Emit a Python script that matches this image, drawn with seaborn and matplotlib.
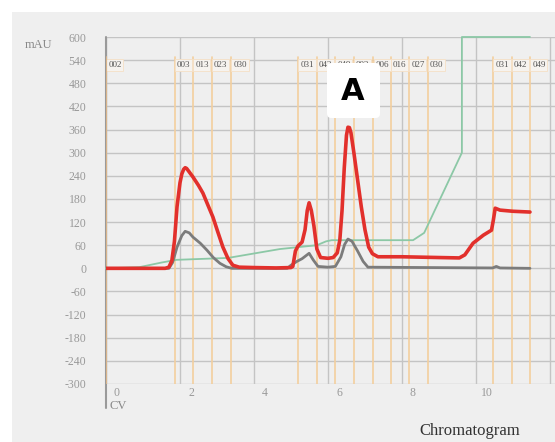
import matplotlib
matplotlib.use("Agg")
import matplotlib.pyplot as plt
import seaborn as sns
from matplotlib.patches import Rectangle, FancyBboxPatch
from matplotlib.transforms import ScaledTranslation

# UV 280 (red) trace
red_cv = [0, 1.6, 1.7, 1.78, 1.85, 1.92, 2.0, 2.05, 2.1, 2.14, 2.18, 2.25, 2.35, 2.5, 2.62,
          2.75, 2.89, 3.02, 3.16, 3.3, 3.43, 3.6, 4.0, 4.6, 5.0, 5.05, 5.12, 5.19, 5.3,
          5.38, 5.44, 5.49, 5.55, 5.62, 5.7, 5.8, 6.0, 6.14, 6.25, 6.32, 6.38, 6.44, 6.5,
          6.54, 6.58, 6.62, 6.7, 6.8, 6.9, 7.0, 7.1, 7.2, 7.35, 8.0, 9.0, 9.55, 9.7, 9.92,
          10.2, 10.42, 10.47, 10.52, 10.65, 11.0, 11.46]
red_mau = [0, 0, 3, 20, 70, 160, 222, 245, 257, 261, 259, 250, 237, 215, 195,
           165, 133, 95, 55, 25, 8, 3, 2, 1, 2, 5, 45, 58, 68,
           100, 150, 170, 150, 110, 50, 28, 26, 28, 40, 73, 150, 260, 345,
           366, 365, 352, 300, 230, 160, 100, 55, 38, 30, 30, 28, 27, 35, 65,
           86, 99, 125, 156, 151, 148, 146]

# second UV (gray) trace
gray_cv = [0, 1.7, 1.8, 1.92, 2.05, 2.14, 2.25, 2.35, 2.55, 2.73, 2.9, 3.08, 3.25, 3.4,
           4.9, 5.0, 5.16, 5.3, 5.49, 5.6, 5.73, 6.0, 6.2, 6.35, 6.45, 6.54, 6.65, 6.8,
           6.95, 7.08, 10.45, 10.55, 10.65, 11.46]
gray_mau = [0, 0, 15, 55, 85, 96, 92, 81, 65, 47, 28, 13, 4, 0,
            0, 8, 18, 25, 39, 22, 5, 3, 5, 30, 62, 76, 70, 45,
            18, 3, 1, 5, 1, 0]

# conductivity / gradient (green) trace
green_cv = [0, 0.9, 1.5, 1.9, 3.3, 4.7, 5.7, 5.95, 6.1, 8.3, 8.6, 9.62, 9.62, 11.46]
green_mau = [0, 3, 15, 22, 27, 50, 60, 70, 73, 73, 92, 300, 600, 600]

# fraction marks
frac_cv = [0, 1.86, 2.35, 2.86, 3.38, 5.19, 5.70, 6.19, 6.70, 7.22, 7.70, 8.19, 8.70,
           10.46, 10.97, 11.46]
frac_labels = ["002", "003", "013", "023", "030", "031", "042", "049", "002", "006",
               "016", "027", "030", "031", "042", "049"]

x_ticks = [0, 2, 4, 6, 8, 10, 12]
x_ticklabels = ["0", "2", "4", "6", "8", "10", ""]
y_ticks = [-300, -240, -180, -120, -60, 0, 60, 120, 180, 240, 300, 360, 420, 480, 540, 600]

sns.set_style("white")
plt.rcParams["font.family"] = ["Liberation Serif", "DejaVu Serif"]
plt.rcParams["axes.unicode_minus"] = False

fig = plt.figure(figsize=(5.55, 4.42), dpi=100)
fig.patch.set_facecolor("white")
fig.add_artist(Rectangle((12 / 555, 0), 1, 1 - 12 / 442, transform=fig.transFigure,
                         facecolor="#efefef", edgecolor="none", zorder=0))

ax = fig.add_axes([106 / 555, 1 - 384 / 442, 449.5 / 555, 347 / 442])
ax.set_facecolor("#efefef")
for s in ax.spines.values():
    s.set_visible(False)

ax.set_xlim(0, 12.15)
ax.set_ylim(-300, 600)
ax.set_xticks(x_ticks)
ax.set_xticklabels(x_ticklabels)
ax.set_yticks(y_ticks)
ax.grid(True, color="#c4c4c4", lw=1)
ax.tick_params(axis="both", length=0, labelcolor="#999999", labelsize=8.5)
ax.tick_params(axis="y", pad=14)
ax.tick_params(axis="x", pad=2)
for lab in ax.get_xticklabels():
    lab.set_transform(lab.get_transform() + ScaledTranslation(0.11, 0, fig.dpi_scale_trans))

# fraction lines and labels
for cv, lab in zip(frac_cv, frac_labels):
    ax.plot([cv, cv], [-300, 548], color="#f3cf9e", lw=1.2, zorder=1)
    ax.text(cv + 0.06, 527, lab, fontsize=6.5, color="#555555", va="center", ha="left",
            zorder=2, bbox=dict(boxstyle="square,pad=0.2", facecolor="#f6f3ef",
                                edgecolor="#f5e0c6", lw=0.6))

# left axis line
ax.plot([0, 0], [-363, 600], color="#9a9a9a", lw=1.5, clip_on=False, zorder=2)
ax.plot([0, 0], [-300, 548], color="#d9b48a", lw=1.5, zorder=2)

sns.lineplot(x=green_cv, y=green_mau, ax=ax, color="#8cc8a6", lw=1.3, sort=False,
             estimator=None, zorder=3, clip_on=False)
sns.lineplot(x=gray_cv, y=gray_mau, ax=ax, color="#7c7c7c", lw=2.0, sort=False,
             estimator=None, zorder=4)
sns.lineplot(x=red_cv, y=red_mau, ax=ax, color="#e2302c", lw=2.6, sort=False,
             estimator=None, zorder=5)
ax.set_xlabel("")
ax.set_ylabel("")

fig.text(25 / 555, 1 - 45 / 442, "mAU", fontsize=9, color="#888888", va="center", ha="left")
fig.text(109 / 555, 1 - 406 / 442, "CV", fontsize=9, color="#888888", va="center", ha="left")
fig.text(470 / 555, 1 - 431 / 442, "Chromatogram", fontsize=12, color="#333333",
         va="center", ha="center")

# label box "A"
box = FancyBboxPatch((327 / 555, 1 - 118 / 442), 53 / 555, 55 / 442,
                     boxstyle="round,pad=0,rounding_size=0.008", mutation_aspect=555 / 442,
                     transform=fig.transFigure, facecolor="white", edgecolor="none",
                     zorder=8, clip_on=False)
ax.add_patch(box)
ax.text(353 / 555, 1 - 92 / 442, "A", transform=fig.transFigure, fontsize=22,
        fontweight="bold", family="DejaVu Sans", color="black", ha="center", va="center",
        zorder=9)

fig.savefig("out.png", dpi=100)
